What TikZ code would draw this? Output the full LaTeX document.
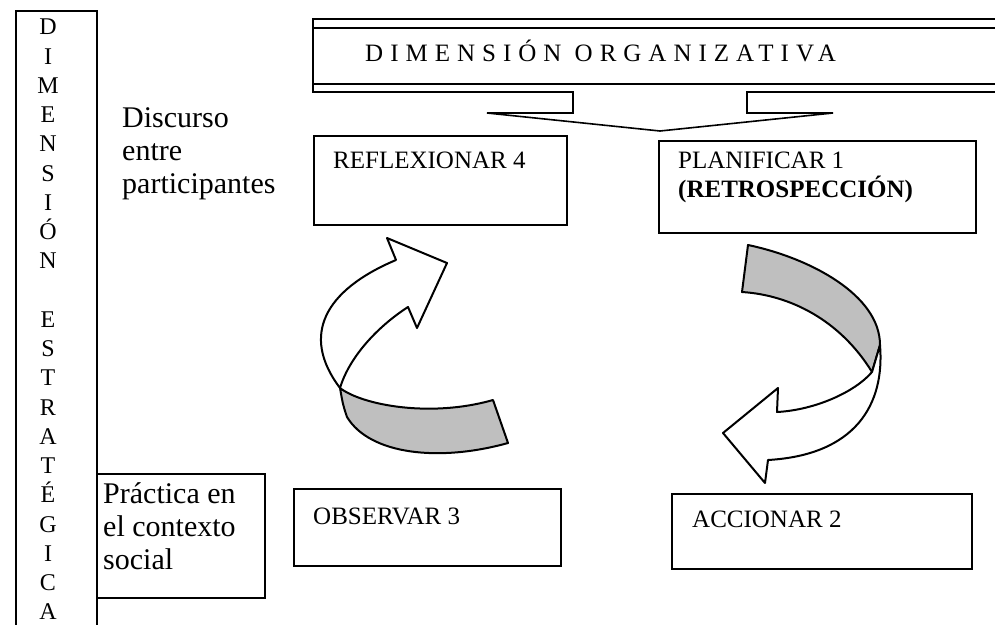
\documentclass[tikz,border=0pt]{standalone}
\usepackage{fontspec}
\setmainfont{Liberation Serif}
\newfontfamily\spacedfont[LetterSpace=28]{Liberation Serif}
\usetikzlibrary{positioning, calc}

\tikzset{
  stepbox/.style={draw, line width=1.6pt, rectangle, inner sep=0pt, anchor=north west},
  boxtext/.style={font=\fontsize{25}{29}\selectfont, inner sep=0pt, align=left, anchor=north west},
  sidetext/.style={font=\fontsize{30}{33}\selectfont, inner sep=0pt, align=left, anchor=north west},
  ribbon/.style={draw, line width=2pt, line join=round, fill=white},
  ribbonback/.style={ribbon, fill=black!25},
}

\begin{document}
\begin{tikzpicture}[x=1pt, y=-1pt]
\useasboundingbox (0,0) rectangle (995,624);

% dimension estrategica
\node[stepbox, minimum width=81pt, minimum height=625pt] (estrat) at (15,10) {};
\node[boxtext, align=center, anchor=north, font=\fontsize{24}{29.25}\selectfont] (estrattxt) at (48,19)
  {D\\I\\M\\E\\N\\S\\I\\Ó\\N\\[29.25pt]E\\S\\T\\R\\A\\T\\É\\G\\I\\C\\A};

\node[sidetext] (discurso) at (122,107) {Discurso\\entre\\participantes};
\node[stepbox, minimum width=168pt, minimum height=124pt] (practica) at (96,473) {};
\node[sidetext] (practicatxt) at ([shift={(7,9)}]practica.north west) {Práctica en\\el contexto\\social};

% dimension organizativa
\draw[line width=1.6pt] (995,19) -- (313,19) -- (313,92) -- (573,92) -- (573,113) -- (487,113)
  -- (660,131) -- (833,113) -- (747,113) -- (747,92) -- (995,92);
\draw[line width=1.6pt] (313,28) -- (995,28) (313,84) -- (995,84);
\node[anchor=base west, inner sep=0pt, font=\spacedfont\fontsize{25}{30}\selectfont] (orgtxt) at (365,61) {DIMENSIÓN ORGANIZATIVA};

% cycle boxes
\node[stepbox, minimum width=253pt, minimum height=89pt] (reflexionar) at (313,135) {};
\node[boxtext] (reflexionartxt) at ([shift={(20,17)}]reflexionar.north west) {REFLEXIONAR 4};
\node[stepbox, minimum width=317pt, minimum height=92pt] (planificar) at (658,140) {};
\node[boxtext] (planificartxt) at ([shift={(20,12)}]planificar.north west) {PLANIFICAR 1\\\textbf{(RETROSPECCIÓN)}};
\node[stepbox, minimum width=267pt, minimum height=77pt] (observar) at (293,488) {};
\node[boxtext] (observartxt) at ([shift={(20,20)}]observar.north west) {OBSERVAR 3};
\node[stepbox, minimum width=300pt, minimum height=75pt] (accionar) at (671,493) {};
\node[boxtext] (accionartxt) at ([shift={(21,18)}]accionar.north west) {ACCIONAR 2};

% left ribbon arrow (up)
\draw[ribbonback] (340,388) .. controls (362,405) and (430,418) .. (493,400) -- (508,443)
  .. controls (440,462) and (370,455) .. (347,417) .. controls (343,405) .. cycle;
\draw[ribbon] (396,260) -- (387,238) -- (447,263) -- (417,328) -- (408,307)
  .. controls (380,325) and (350,355) .. (340,388)
  .. controls (300,335) and (325,290) .. cycle;

% right ribbon arrow (down)
\draw[ribbonback] (748,245) .. controls (810,258) and (880,295) .. (880,345) -- (872,372)
  .. controls (840,320) and (790,295) .. (742,292) -- cycle;
\draw[ribbon] (880,345) .. controls (885,405) and (855,455) .. (768,460) -- (765,483) -- (723,433)
  -- (778,388) -- (777,412) .. controls (815,410) and (855,392) .. (872,372) -- cycle;
\end{tikzpicture}
\end{document}
